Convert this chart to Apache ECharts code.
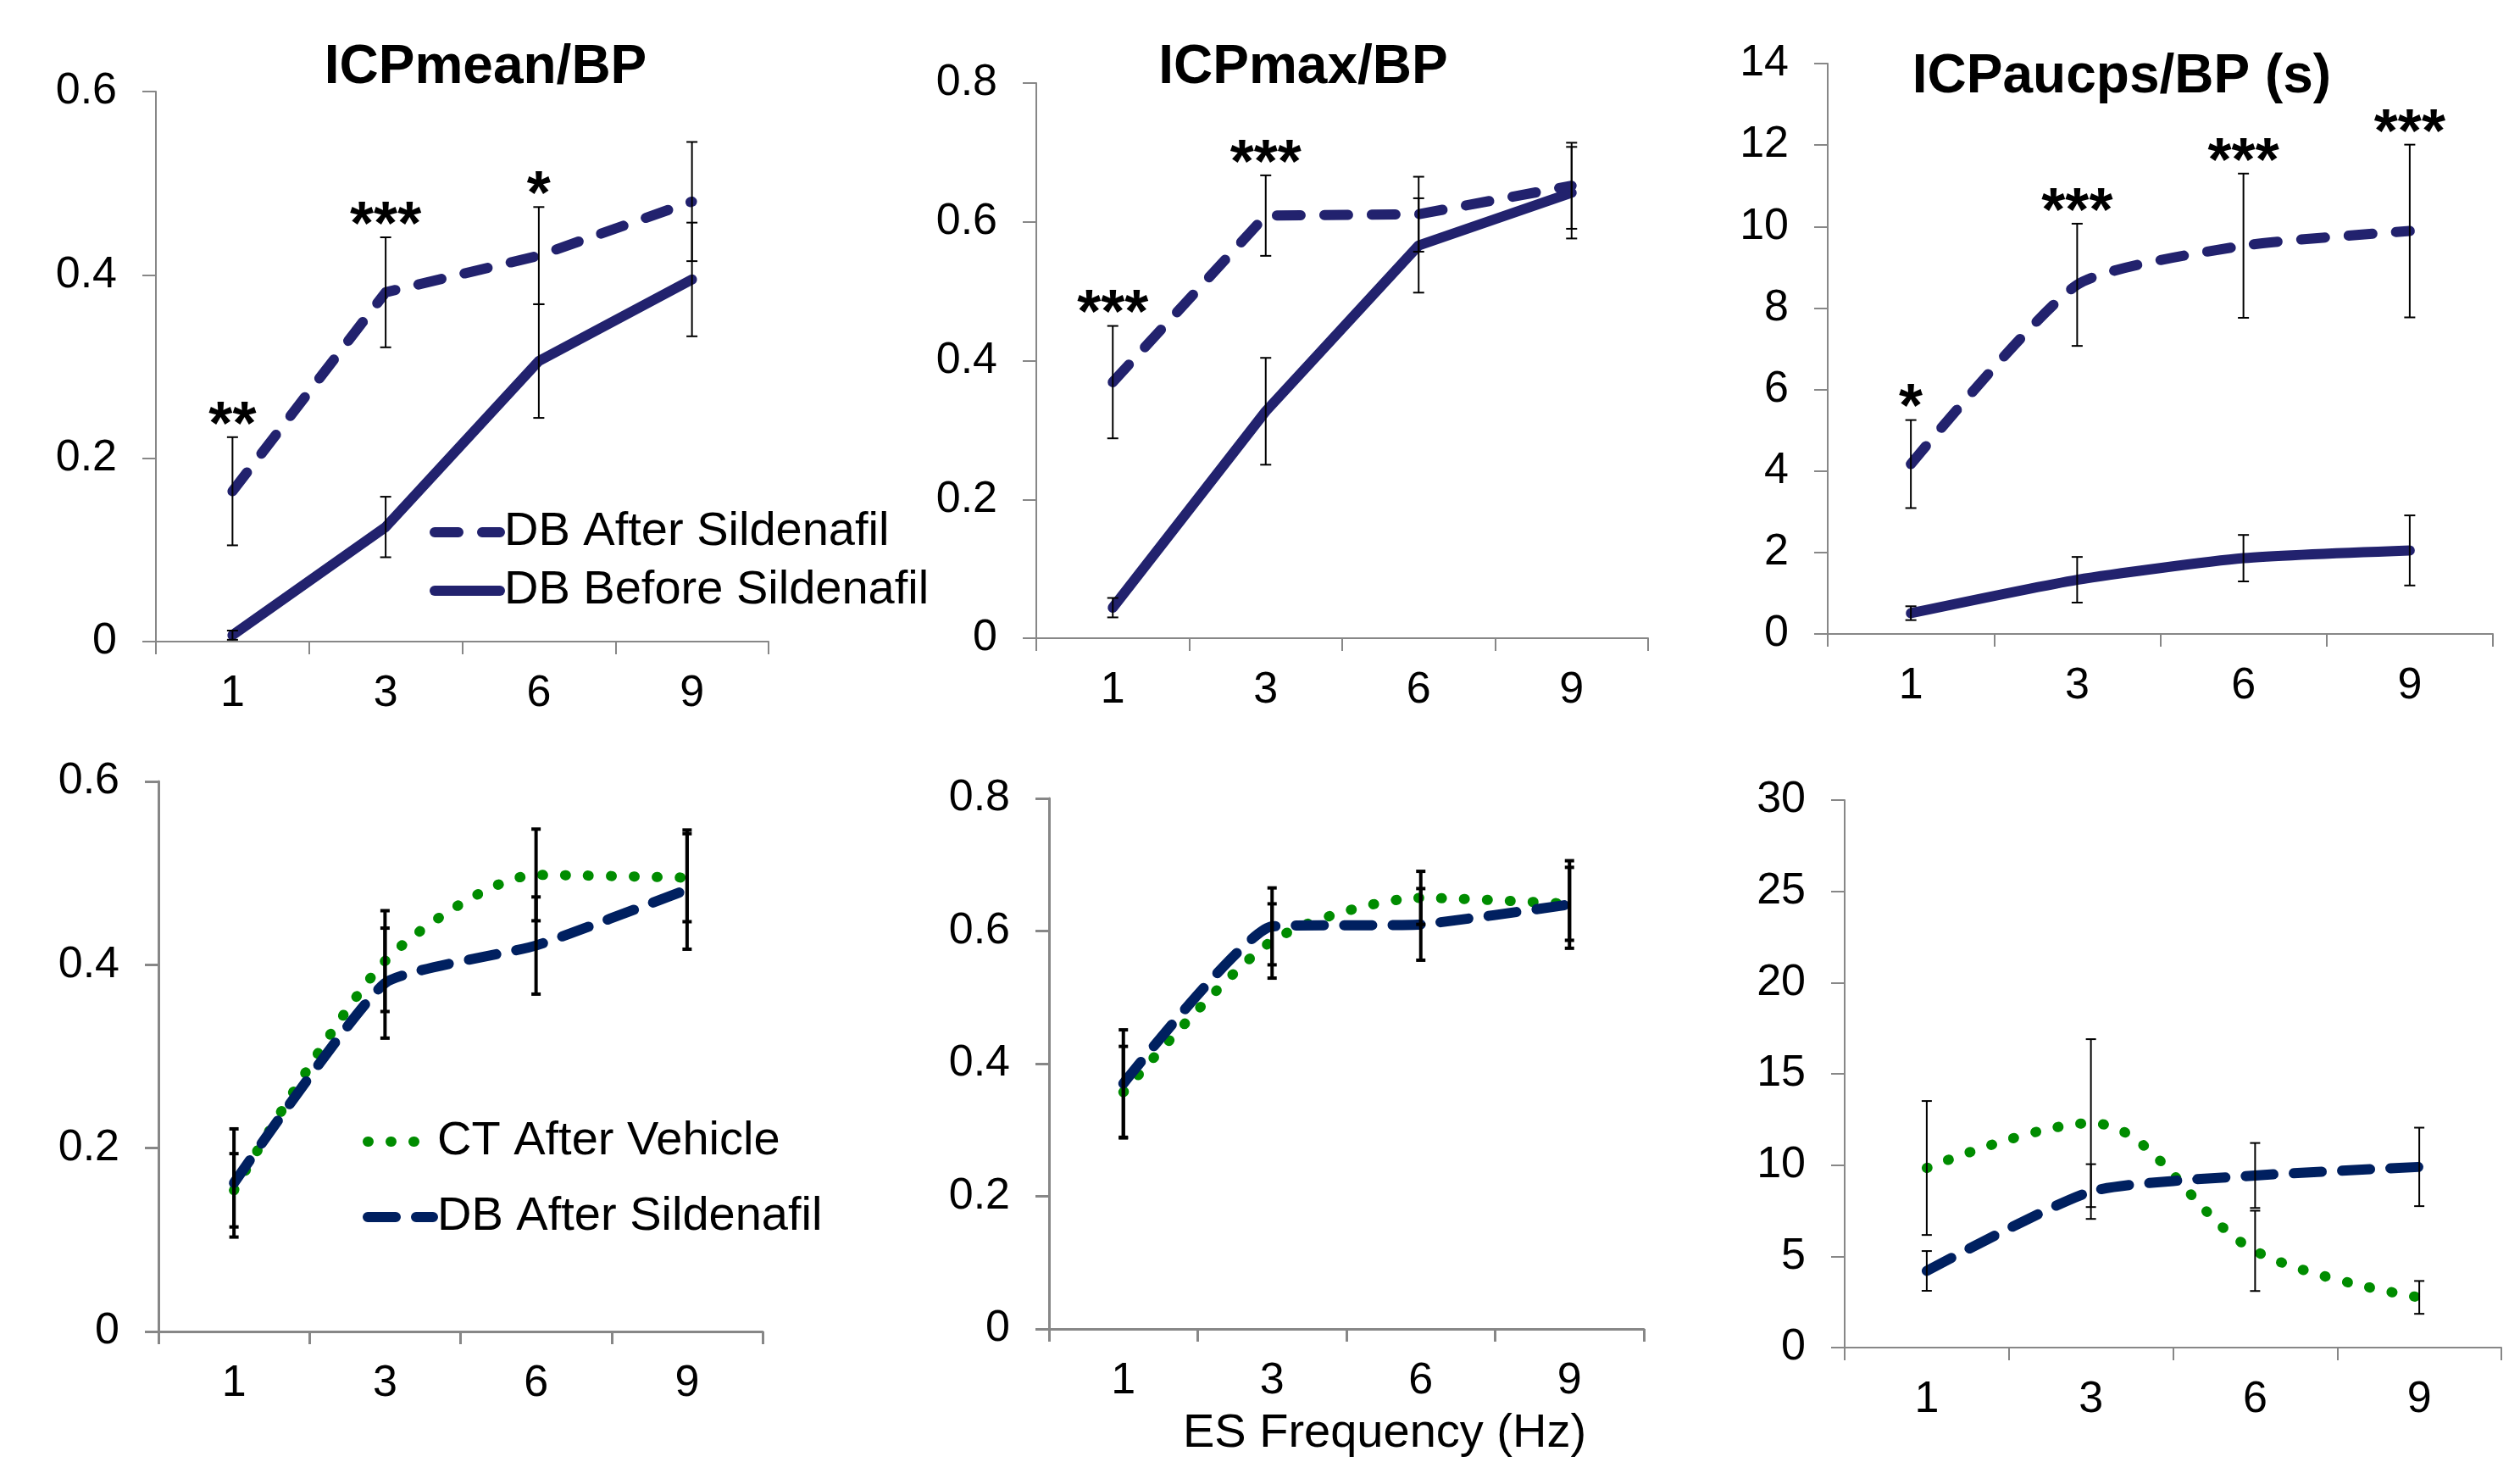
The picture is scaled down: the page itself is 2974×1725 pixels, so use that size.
<!DOCTYPE html>
<html>
<head>
<meta charset="utf-8">
<script src="https://cdn.jsdelivr.net/npm/echarts@6/dist/echarts.min.js"></script>
<style>
html,body{margin:0;padding:0;background:#ffffff;}
#chart{width:2974px;height:1725px;}
</style>
</head>
<body>
<div id="chart"></div>
<script>
// ---------------- DATA ----------------
const categories = ['1', '3', '6', '9'];

// Top row: DB After vs DB Before Sildenafil
const icpMeanAfter     = [0.164, 0.381, 0.421, 0.480];
const icpMeanAfterErr  = [0.059, 0.060, 0.053, 0.065];
const icpMeanBefore    = [0.007, 0.125, 0.306, 0.395];
const icpMeanBeforeErr = [0.005, 0.033, 0.062, 0.062];
const icpMeanStars     = ['**', '***', '*', ''];

const icpMaxAfter      = [0.369, 0.609, 0.611, 0.652];
const icpMaxAfterErr   = [0.081, 0.058, 0.054, 0.062];
const icpMaxBefore     = [0.044, 0.327, 0.566, 0.642];
const icpMaxBeforeErr  = [0.014, 0.077, 0.068, 0.066];
const icpMaxStars      = ['***', '***', '', ''];

const aucAfter         = [4.17, 8.57, 9.53, 9.89];
const aucAfterErr      = [1.08, 1.50, 1.77, 2.12];
const aucBefore        = [0.51, 1.33, 1.86, 2.05];
const aucBeforeErr     = [0.17, 0.56, 0.57, 0.86];
const aucStars         = ['*', '***', '***', '***'];

// Bottom row: CT After Vehicle vs DB After Sildenafil
const meanCT           = [0.154, 0.404, 0.498, 0.495];
const meanCTErr        = [0.040, 0.055, 0.050, 0.048];
const meanDB           = [0.162, 0.380, 0.421, 0.482];
const meanDBErr        = [0.059, 0.060, 0.053, 0.065];

const maxCT            = [0.357, 0.585, 0.650, 0.641];
const maxCTErr         = [0.069, 0.056, 0.040, 0.055];
const maxDB            = [0.370, 0.607, 0.610, 0.640];
const maxDBErr         = [0.081, 0.058, 0.054, 0.066];

const aucCT            = [9.84, 12.3, 5.3, 2.75];
const aucCTErr         = [3.67, 4.6, 2.2, 0.9];
const aucDB            = [4.2, 8.55, 9.43, 9.9];
const aucDBErr         = [1.09, 1.5, 1.78, 2.15];

const yMax      = [0.6, 0.8, 14, 0.6, 0.8, 30];
const yInterval = [0.2, 0.2, 2, 0.2, 0.2, 5];

const titles = ['ICPmean/BP', 'ICPmax/BP', 'ICPaucps/BP (s)'];
const xAxisTitle = 'ES Frequency (Hz)';
const NAME_AFTER = 'DB After Sildenafil';
const NAME_BEFORE = 'DB Before Sildenafil';
const NAME_CT = 'CT After Vehicle';

// ---------------- STYLE / LAYOUT ----------------
const FONT = "'Liberation Sans', Arial, Helvetica, sans-serif";
const NAVY = '#22226E';
const DARKBLUE = '#002060';
const GREEN = '#008C00';
const AXIS = '#878787';

const layout = [
  {left: 184,  top: 108, width: 723, height: 649, axisW: 2},
  {left: 1223, top: 98,  width: 722, height: 655, axisW: 2},
  {left: 2157, top: 75,  width: 785, height: 673, axisW: 2},
  {left: 187,  top: 922, width: 713, height: 649, axisW: 3},
  {left: 1238, top: 942, width: 702, height: 626, axisW: 3},
  {left: 2177, top: 944, width: 775, height: 646, axisW: 2}
];

const grids = layout.map(l => ({left: l.left, top: l.top, width: l.width, height: l.height, containLabel: false}));

const xAxes = layout.map((l, i) => ({
  type: 'category', gridIndex: i, data: categories, boundaryGap: true,
  axisLine: {show: true, lineStyle: {color: AXIS, width: l.axisW}},
  axisTick: {show: true, length: 15, inside: false, lineStyle: {color: AXIS, width: l.axisW}},
  axisLabel: {show: true, color: '#000', fontSize: 52, fontFamily: FONT, margin: 36},
  splitLine: {show: false}
}));

const yAxes = layout.map((l, i) => ({
  type: 'value', gridIndex: i, min: 0, max: yMax[i], interval: yInterval[i],
  axisLine: {show: true, lineStyle: {color: AXIS, width: l.axisW}},
  axisTick: {show: true, length: 16, inside: false, lineStyle: {color: AXIS, width: l.axisW}},
  axisLabel: {show: true, color: '#000', fontSize: 52, fontFamily: FONT, margin: 46},
  splitLine: {show: false}
}));

function lineSeries(idx, name, values, color, width, dash, smooth) {
  return {
    type: 'line', name: name, xAxisIndex: idx, yAxisIndex: idx,
    data: values, symbol: 'none', smooth: smooth, z: 3,
    lineStyle: {color: color, width: width, type: dash, cap: 'round', join: 'round'},
    itemStyle: {color: color},
    emphasis: {disabled: true}, silent: true
  };
}

function errSeries(idx, means, errs, capW, lw) {
  return {
    type: 'custom', xAxisIndex: idx, yAxisIndex: idx, z: 5, silent: true, clip: false,
    encode: {x: 0, y: [1, 2]},
    data: means.map((m, i) => [i, m - errs[i], m + errs[i]]),
    renderItem: function (params, api) {
      const x = api.value(0);
      const hi = api.coord([x, api.value(2)]);
      const lo = api.coord([x, api.value(1)]);
      const st = {stroke: '#000', lineWidth: lw};
      const h = capW / 2;
      return {
        type: 'group',
        children: [
          {type: 'line', shape: {x1: hi[0], y1: hi[1], x2: lo[0], y2: lo[1]}, style: st},
          {type: 'line', shape: {x1: hi[0] - h, y1: hi[1], x2: hi[0] + h, y2: hi[1]}, style: st},
          {type: 'line', shape: {x1: lo[0] - h, y1: lo[1], x2: lo[0] + h, y2: lo[1]}, style: st}
        ]
      };
    }
  };
}

function starSeries(idx, means, errs, stars) {
  const pts = [];
  stars.forEach((s, i) => { if (s) pts.push([i, means[i] + errs[i], s]); });
  return {
    type: 'scatter', xAxisIndex: idx, yAxisIndex: idx, z: 6, silent: true,
    symbol: 'circle', symbolSize: 2, itemStyle: {color: 'rgba(255,255,255,0)'},
    data: pts,
    label: {
      show: true, position: 'inside', offset: [0, -12], opacity: 1,
      formatter: p => p.value[2],
      color: '#000', fontSize: 72, fontWeight: 'bold', fontFamily: FONT
    }
  };
}

const TOP_DASH = [28, 28];
const BOT_DASH = [33, 24];
const DOT = [1, 26];
const LW = 12;

const series = [
  // Panel 1
  lineSeries(0, NAME_BEFORE, icpMeanBefore, NAVY, LW, 'solid', false),
  lineSeries(0, NAME_AFTER, icpMeanAfter, NAVY, LW, TOP_DASH, false),
  errSeries(0, icpMeanBefore, icpMeanBeforeErr, 13, 2),
  errSeries(0, icpMeanAfter, icpMeanAfterErr, 13, 2),
  starSeries(0, icpMeanAfter, icpMeanAfterErr, icpMeanStars),
  // Panel 2
  lineSeries(1, NAME_BEFORE, icpMaxBefore, NAVY, LW, 'solid', false),
  lineSeries(1, NAME_AFTER, icpMaxAfter, NAVY, LW, TOP_DASH, false),
  errSeries(1, icpMaxBefore, icpMaxBeforeErr, 13, 2),
  errSeries(1, icpMaxAfter, icpMaxAfterErr, 13, 2),
  starSeries(1, icpMaxAfter, icpMaxAfterErr, icpMaxStars),
  // Panel 3
  lineSeries(2, NAME_BEFORE, aucBefore, NAVY, LW, 'solid', 0.2),
  lineSeries(2, NAME_AFTER, aucAfter, NAVY, LW, TOP_DASH, 0.2),
  errSeries(2, aucBefore, aucBeforeErr, 13, 2),
  errSeries(2, aucAfter, aucAfterErr, 13, 2),
  starSeries(2, aucAfter, aucAfterErr, aucStars),
  // Panel 4
  lineSeries(3, NAME_CT, meanCT, GREEN, LW, DOT, 0.25),
  lineSeries(3, NAME_AFTER, meanDB, DARKBLUE, LW, BOT_DASH, 0.15),
  errSeries(3, meanCT, meanCTErr, 11, 4),
  errSeries(3, meanDB, meanDBErr, 11, 4),
  // Panel 5
  lineSeries(4, NAME_CT, maxCT, GREEN, LW, DOT, 0.25),
  lineSeries(4, NAME_AFTER, maxDB, DARKBLUE, LW, BOT_DASH, 0.15),
  errSeries(4, maxCT, maxCTErr, 11, 4),
  errSeries(4, maxDB, maxDBErr, 11, 4),
  // Panel 6
  lineSeries(5, NAME_CT, aucCT, GREEN, LW, DOT, 0.35),
  lineSeries(5, NAME_AFTER, aucDB, DARKBLUE, LW, BOT_DASH, 0.2),
  errSeries(5, aucCT, aucCTErr, 12, 2),
  errSeries(5, aucDB, aucDBErr, 12, 2)
];

const hiddenSym = {color: 'rgba(0,0,0,0)', opacity: 0, borderWidth: 0};
const legendText = {fontSize: 56, color: '#000', fontFamily: FONT, lineHeight: 56};

const legends = [
  {
    show: true, orient: 'vertical', left: 507, top: 600, padding: 0,
    itemWidth: 77, itemHeight: 20, itemGap: 13, selectedMode: false,
    textStyle: legendText,
    data: [
      {name: NAME_AFTER, itemStyle: hiddenSym, lineStyle: {color: NAVY, width: LW, type: TOP_DASH, cap: 'round'}},
      {name: NAME_BEFORE, itemStyle: hiddenSym, lineStyle: {color: NAVY, width: LW, type: 'solid', cap: 'round'}}
    ]
  },
  {
    show: true, orient: 'vertical', left: 428, top: 1319, padding: 0,
    itemWidth: 77, itemHeight: 20, itemGap: 33, selectedMode: false,
    textStyle: legendText,
    data: [
      {name: NAME_CT, itemStyle: hiddenSym, lineStyle: {color: GREEN, width: LW, type: DOT, cap: 'round'}},
      {name: NAME_AFTER, itemStyle: hiddenSym, lineStyle: {color: DARKBLUE, width: LW, type: BOT_DASH, cap: 'round'}}
    ]
  }
];

function textEl(x, y, txt, font) {
  return {
    type: 'text', x: x, y: y, silent: true,
    style: {text: txt, font: font, fill: '#000', textAlign: 'center', textVerticalAlign: 'middle', align: 'center', verticalAlign: 'middle'}
  };
}

const graphics = [
  textEl(573, 80, titles[0], 'bold 64px ' + FONT),
  textEl(1538, 80, titles[1], 'bold 64px ' + FONT),
  textEl(2504, 91, titles[2], 'bold 64px ' + FONT),
  textEl(1634, 1692, xAxisTitle, '56px ' + FONT)
];

const chart = echarts.init(document.getElementById('chart'), null, {renderer: 'canvas'});
chart.setOption({
  animation: false,
  backgroundColor: '#ffffff',
  textStyle: {fontFamily: FONT},
  grid: grids,
  xAxis: xAxes,
  yAxis: yAxes,
  legend: legends,
  graphic: graphics,
  series: series
});
</script>
</body>
</html>
